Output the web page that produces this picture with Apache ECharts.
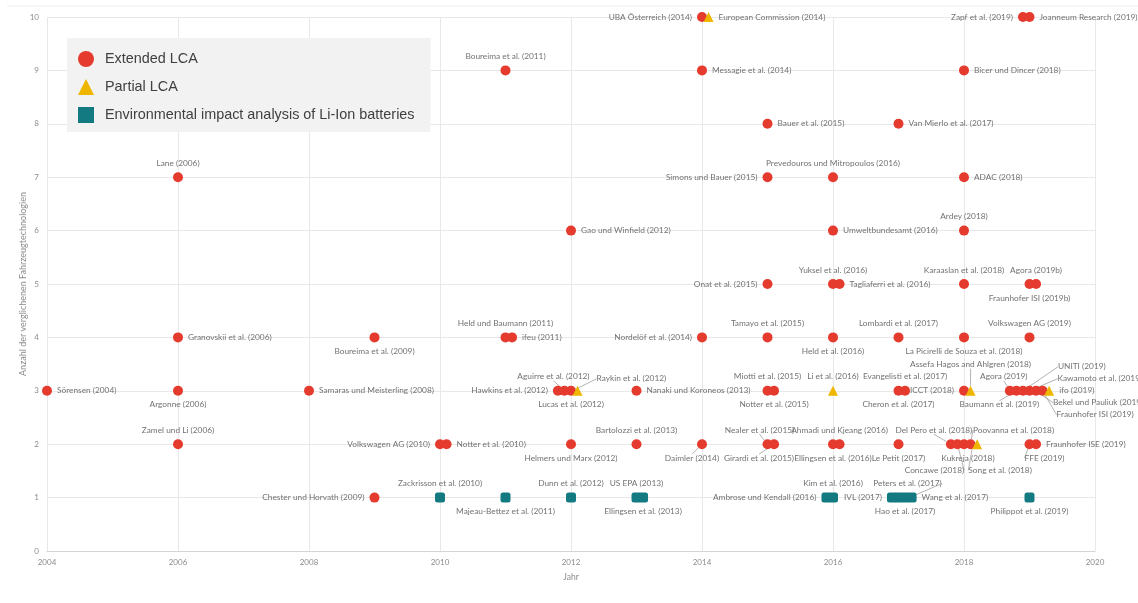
<!DOCTYPE html>
<html>
<head>
<meta charset="utf-8">
<script src="https://cdn.jsdelivr.net/npm/echarts@6/dist/echarts.min.js"></script>
<style>
  html, body { margin: 0; padding: 0; background: #fff; }
  #chart { width: 1138px; height: 603px; }
</style>
</head>
<body>
<div id="chart"></div>
<script>
// Extended LCA studies (red circles)
const extendedNames = [
  'Sörensen (2004)', 'Lane (2006)', 'Granovskii et al. (2006)', 'Argonne (2006)', 'Zamel und Li (2006)',
  'Samaras und Meisterling (2008)', 'Boureima et al. (2009)', 'Chester und Horvath (2009)',
  'Volkswagen AG (2010)', 'Notter et al. (2010)', 'Boureima et al. (2011)', 'Held und Baumann (2011)', 'ifeu (2011)',
  'Gao und Winfield (2012)', 'Hawkins et al. (2012)', 'Aguirre et al. (2012)', 'Lucas et al. (2012)', 'Helmers und Marx (2012)',
  'Nanaki und Koroneos (2013)', 'Bartolozzi et al. (2013)',
  'UBA Österreich (2014)', 'Messagie et al. (2014)', 'Nordelöf et al. (2014)', 'Daimler (2014)',
  'Bauer et al. (2015)', 'Simons und Bauer (2015)', 'Onat et al. (2015)', 'Tamayo et al. (2015)', 'Miotti et al. (2015)',
  'Notter et al. (2015)', 'Nealer et al. (2015)', 'Girardi et al. (2015)',
  'Prevedouros und Mitropoulos (2016)', 'Umweltbundesamt (2016)', 'Yuksel et al. (2016)', 'Tagliaferri et al. (2016)',
  'Held et al. (2016)', 'Ellingsen et al. (2016)', 'Ahmadi und Kjeang (2016)',
  'Van Mierlo et al. (2017)', 'Lombardi et al. (2017)', 'Cheron et al. (2017)', 'Evangelisti et al. (2017)', 'Le Petit (2017)',
  'Zapf et al. (2019)', 'Joanneum Research (2019)', 'Bicer und Dincer (2018)', 'ADAC (2018)', 'Ardey (2018)',
  'Karaaslan et al. (2018)', 'Fraunhofer ISI (2019b)', 'Agora (2019b)', 'La Picirelli de Souza et al. (2018)',
  'Volkswagen AG (2019)', 'ICCT (2018)', 'Agora (2019)', 'Baumann et al. (2019)', 'UNITI (2019)',
  'Kawamoto et al. (2019)', 'Bekel und Pauliuk (2019)', 'Fraunhofer ISI (2019)',
  'Del Pero et al. (2018)', 'Concawe (2018)', 'Kukreja (2018)', 'Poovanna et al. (2018)', 'FFE (2019)', 'Fraunhofer ISE (2019)'
];
const extendedYear = [
  2004, 2006, 2006, 2006, 2006,
  2008, 2009, 2009,
  2010, 2010.1, 2011, 2011, 2011.1,
  2012, 2011.8, 2011.9, 2012, 2012,
  2013, 2013,
  2014, 2014, 2014, 2014,
  2015, 2015, 2015, 2015, 2015,
  2015.1, 2015, 2015.1,
  2016, 2016, 2016, 2016.1,
  2016, 2016, 2016.1,
  2017, 2017, 2017, 2017.1, 2017,
  2018.9, 2019, 2018, 2018, 2018,
  2018, 2019, 2019.1, 2018,
  2019, 2018, 2018.7, 2018.8, 2018.9,
  2019, 2019.1, 2019.2,
  2017.8, 2017.9, 2018, 2018.1, 2019, 2019.1
];
const extendedCount = [
  3, 7, 4, 3, 2,
  3, 4, 1,
  2, 2, 9, 4, 4,
  6, 3, 3, 3, 2,
  3, 2,
  10, 9, 4, 2,
  8, 7, 5, 4, 3,
  3, 2, 2,
  7, 6, 5, 5,
  4, 2, 2,
  8, 4, 3, 3, 2,
  10, 10, 9, 7, 6,
  5, 5, 5, 4,
  4, 3, 3, 3, 3,
  3, 3, 3,
  2, 2, 2, 2, 2, 2
];

// Partial LCA studies (yellow triangles)
const partialNames = ['Raykin et al. (2012)', 'European Commission (2014)', 'Li et al. (2016)',
  'Assefa Hagos and Ahlgren (2018)', 'Song et al. (2018)', 'ifo (2019)'];
const partialYear = [2012.1, 2014.1, 2016, 2018.1, 2018.2, 2019.3];
const partialCount = [3, 10, 3, 3, 2, 3];

// Li-Ion battery studies (teal squares)
const batteryNames = ['Zackrisson et al. (2010)', 'Majeau-Bettez et al. (2011)', 'Dunn et al. (2012)', 'US EPA (2013)',
  'Ellingsen et al. (2013)', 'Ambrose und Kendall (2016)', 'Kim et al. (2016)', 'IVL (2017)', 'Peters et al. (2017)',
  'Hao et al. (2017)', 'Wang et al. (2017)', 'Philippot et al. (2019)'];
const batteryYear = [2010, 2011, 2012, 2013, 2013.1, 2015.9, 2016, 2016.9, 2017, 2017.1, 2017.2, 2019];
const batteryCount = [1, 1, 1, 1, 1, 1, 1, 1, 1, 1, 1, 1];

const seriesNames = ['Extended LCA', 'Partial LCA', 'Environmental impact analysis of Li-Ion batteries'];

// label placement: [position, dx, dy, leader line]
const labelPlace = {
  'Aguirre et al. (2012)': ['top', -11, 0, true],
  'Raykin et al. (2012)': ['right', 9, -12, true],
  'Daimler (2014)': ['bottom', -10, 0, true],
  'Nealer et al. (2015)': ['top', -8, 0, true],
  'Girardi et al. (2015)': ['bottom', -15, 0, true],
  'Agora (2019)': ['top', -6, 0, true],
  'Baumann et al. (2019)': ['bottom', -17, 0, true],
  'UNITI (2019)': ['right', 25, -24, true],
  'Kawamoto et al. (2019)': ['right', 18, -12, true],
  'Bekel und Pauliuk (2019)': ['right', 7, 12, true],
  'Fraunhofer ISI (2019)': ['right', 4, 24, true],
  'Assefa Hagos and Ahlgren (2018)': ['top', 0, -12, true],
  'Del Pero et al. (2018)': ['top', -17, 0, true],
  'Concawe (2018)': ['bottom', -23, 12, true],
  'Poovanna et al. (2018)': ['top', 43, 0, true],
  'Song et al. (2018)': ['bottom', 23, 12, true],
  'FFE (2019)': ['bottom', 15, 0, true],
  'Peters et al. (2017)': ['top', 9, 0, true],
  'Kukreja (2018)': ['bottom', 4, 0, false]
};
const rightLabels = ['Sörensen (2004)', 'Granovskii et al. (2006)', 'Samaras und Meisterling (2008)', 'Notter et al. (2010)',
  'ifeu (2011)', 'Gao und Winfield (2012)', 'Nanaki und Koroneos (2013)', 'Messagie et al. (2014)', 'Bauer et al. (2015)',
  'Umweltbundesamt (2016)', 'Tagliaferri et al. (2016)', 'Van Mierlo et al. (2017)', 'Joanneum Research (2019)',
  'Bicer und Dincer (2018)', 'ADAC (2018)', 'Fraunhofer ISE (2019)', 'European Commission (2014)', 'ifo (2019)', 'Wang et al. (2017)'];
const leftLabels = ['Chester und Horvath (2009)', 'Volkswagen AG (2010)', 'Hawkins et al. (2012)', 'UBA Österreich (2014)',
  'Nordelöf et al. (2014)', 'Simons und Bauer (2015)', 'Onat et al. (2015)', 'Zapf et al. (2019)', 'ICCT (2018)',
  'Ambrose und Kendall (2016)', 'IVL (2017)'];
const bottomLabels = ['Argonne (2006)', 'Boureima et al. (2009)', 'Lucas et al. (2012)', 'Helmers und Marx (2012)',
  'Notter et al. (2015)', 'Held et al. (2016)', 'Ellingsen et al. (2016)', 'Cheron et al. (2017)', 'Le Petit (2017)',
  'Fraunhofer ISI (2019b)', 'La Picirelli de Souza et al. (2018)', 'Majeau-Bettez et al. (2011)',
  'Ellingsen et al. (2013)', 'Hao et al. (2017)', 'Philippot et al. (2019)'];

function positionOf(name) {
  if (labelPlace[name]) return labelPlace[name][0];
  if (rightLabels.includes(name)) return 'right';
  if (leftLabels.includes(name)) return 'left';
  if (bottomLabels.includes(name)) return 'bottom';
  return 'top';
}

function buildData(names, years, counts) {
  return names.map(function (n, i) {
    const lp = labelPlace[n];
    return {
      name: n,
      value: [years[i], counts[i]],
      label: { position: positionOf(n) },
      labelLine: { show: !!(lp && lp[3]) }
    };
  });
}

const allNames = [extendedNames, partialNames, batteryNames];

const labelStyle = {
  show: true,
  formatter: '{b}',
  fontFamily: 'Lato',
  fontSize: 8.3,
  color: '#727272',
  distance: 5
};
const lineStyle = { color: '#a0a0a0', width: 0.8 };

function moveLabel(p) {
  const n = allNames[p.seriesIndex][p.dataIndex];
  const lp = labelPlace[n];
  if (lp) return { dx: lp[1], dy: lp[2] };
  return {};
}

const chart = echarts.init(document.getElementById('chart'));
chart.setOption({
  animation: false,
  backgroundColor: '#ffffff',
  graphic: [{
    type: 'line',
    shape: { x1: 7, y1: 6, x2: 1138, y2: 6 },
    style: { stroke: '#eeeeee', lineWidth: 1 }
  }],
  grid: { left: 47, right: 43, top: 17, bottom: 52 },
  legend: {
    orient: 'vertical',
    left: 67,
    top: 38,
    backgroundColor: '#f2f2f2',
    padding: [13, 16, 9, 11],
    itemWidth: 16,
    itemHeight: 16,
    itemGap: 12,
    textStyle: { fontFamily: 'Liberation Sans', fontSize: 14.4, color: '#404040', padding: [0, 0, 0, 6] },
    data: [
      { name: seriesNames[0], icon: 'circle' },
      { name: seriesNames[1], icon: 'triangle' },
      { name: seriesNames[2], icon: 'rect' }
    ]
  },
  xAxis: {
    type: 'value',
    min: 2004,
    max: 2020,
    interval: 2,
    name: 'Jahr',
    nameLocation: 'middle',
    nameGap: 22,
    nameTextStyle: { fontFamily: 'Lato', fontSize: 8.5, color: '#8c8c8c' },
    axisLine: { lineStyle: { color: '#d4d4d4' } },
    axisTick: { show: false },
    axisLabel: { fontFamily: 'Lato', fontSize: 8, color: '#8c8c8c', margin: 7, formatter: function (v) { return String(v); } },
    splitLine: { show: true, lineStyle: { color: '#e8e8e8' } }
  },
  yAxis: {
    type: 'value',
    min: 0,
    max: 10,
    interval: 1,
    name: 'Anzahl der verglichenen Fahrzeugtechnologien',
    nameLocation: 'middle',
    nameGap: 19,
    nameMoveOverlap: false,
    nameTextStyle: { fontFamily: 'Lato', fontSize: 9, color: '#8c8c8c' },
    axisLine: { show: false },
    axisTick: { show: false },
    axisLabel: { fontFamily: 'Lato', fontSize: 8, color: '#8c8c8c', margin: 8 },
    splitLine: { show: true, lineStyle: { color: '#e8e8e8' } }
  },
  series: [
    {
      name: seriesNames[0],
      type: 'scatter',
      symbol: 'circle',
      symbolSize: 10,
      itemStyle: { color: '#e53a2e', opacity: 1 },
      label: labelStyle,
      labelLine: { lineStyle: lineStyle },
      labelLayout: moveLabel,
      data: buildData(extendedNames, extendedYear, extendedCount)
    },
    {
      name: seriesNames[1],
      type: 'scatter',
      symbol: 'triangle',
      symbolSize: 10,
      itemStyle: { color: '#efb600', opacity: 1 },
      label: labelStyle,
      labelLine: { lineStyle: lineStyle },
      labelLayout: moveLabel,
      data: buildData(partialNames, partialYear, partialCount)
    },
    {
      name: seriesNames[2],
      type: 'scatter',
      symbol: 'roundRect',
      symbolSize: 10,
      itemStyle: { color: '#137a82', opacity: 1 },
      label: labelStyle,
      labelLine: { lineStyle: lineStyle },
      labelLayout: moveLabel,
      data: buildData(batteryNames, batteryYear, batteryCount)
    }
  ]
});
</script>
</body>
</html>
